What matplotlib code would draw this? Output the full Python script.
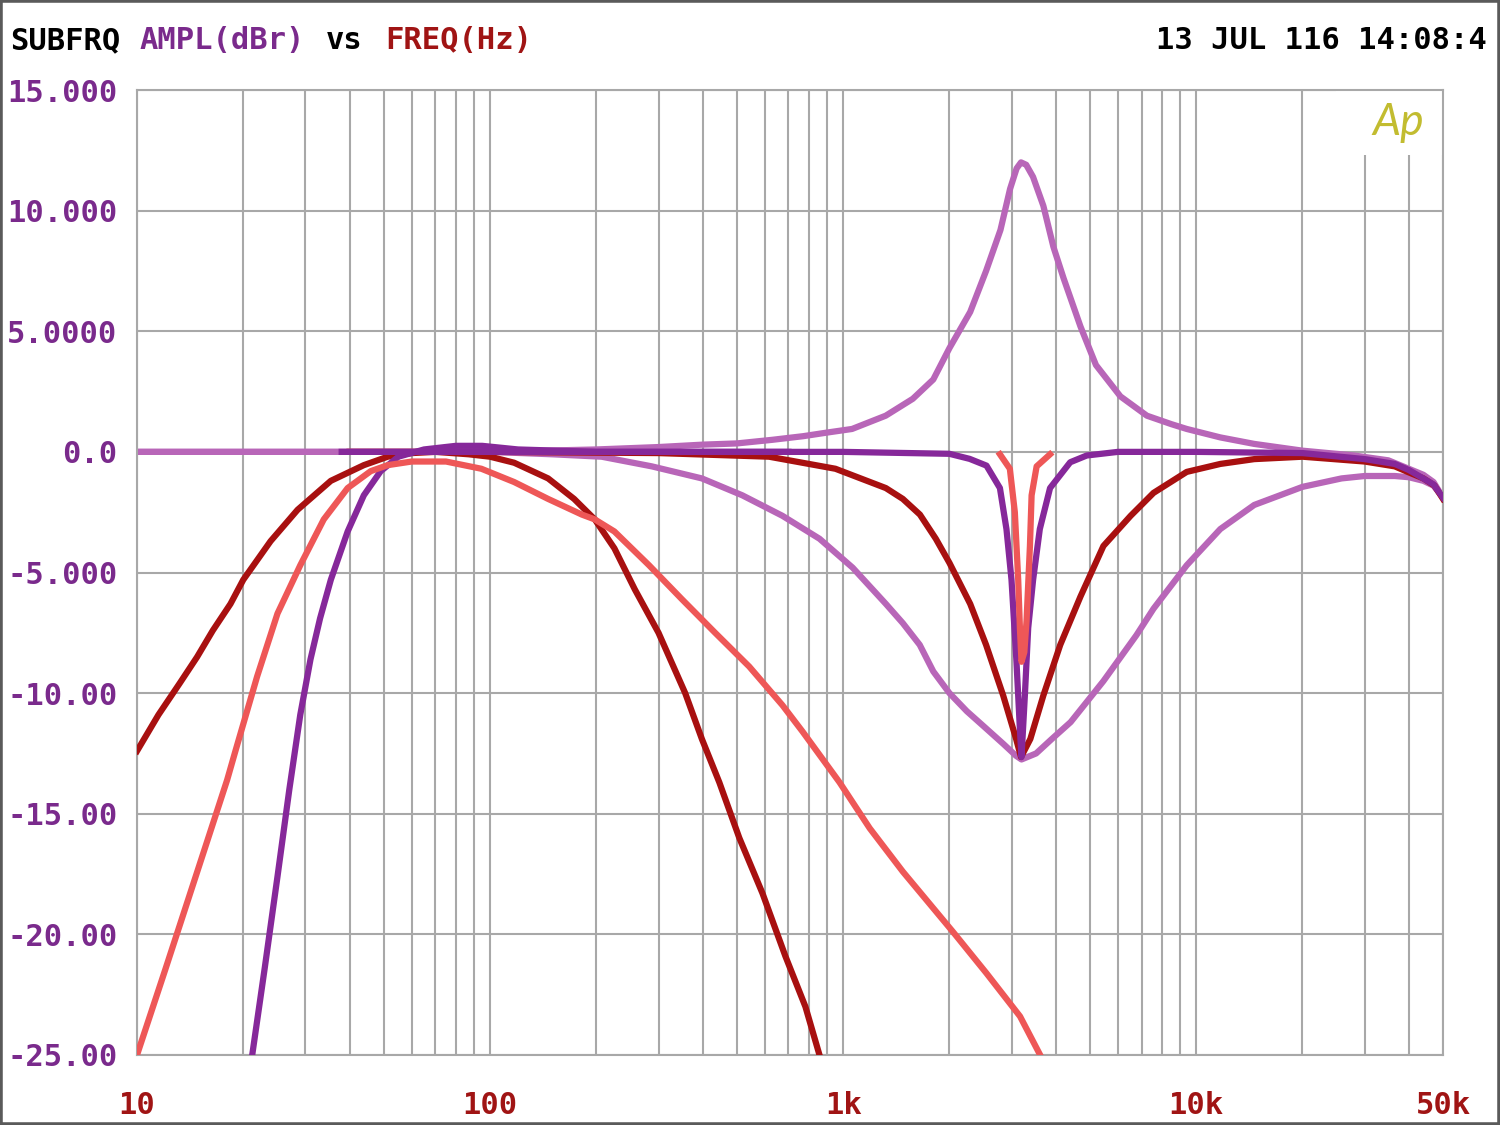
"""Audio Precision style sweep: subsonic/crossover filters and 3 kHz EQ bands."""

import matplotlib

matplotlib.use("Agg")
import matplotlib.pyplot as plt
from matplotlib.patches import Rectangle
from matplotlib.ticker import FixedLocator, LogLocator, NullFormatter

# ---- data (frequency in Hz, level in dBr) ----
boost_freq = [10, 50, 100, 200, 300, 400, 500, 630, 770, 900, 1060, 1320, 1575,
              1800, 2000, 2290, 2540, 2790, 2970, 3100, 3190, 3300, 3450, 3690,
              3940, 4210, 4700, 5200, 6100, 7250, 8500, 9400, 11700, 14600,
              20000, 28000, 35000, 40000, 44000, 47000, 50000]
boost_db = [0, 0, 0, 0.1, 0.2, 0.3, 0.35, 0.5, 0.65, 0.8, 0.95, 1.5, 2.2,
            3.0, 4.3, 5.8, 7.5, 9.2, 10.9, 11.75, 12.0, 11.9, 11.4, 10.2,
            8.5, 7.2, 5.2, 3.6, 2.3, 1.5, 1.15, 0.95, 0.6, 0.33,
            0.05, -0.15, -0.35, -0.7, -0.95, -1.25, -1.9]

wide_freq = [10, 100, 150, 207, 287, 398, 518, 673, 857, 1064, 1321, 1476,
             1648, 1800, 2000, 2240, 2490, 2840, 3090, 3200, 3520, 3900, 4410,
             5460, 6770, 7570, 9400, 11700, 14600, 20000, 25800, 30000, 36500,
             40000, 44000, 47000, 50000]
wide_db = [0, 0, -0.1, -0.2, -0.6, -1.1, -1.8, -2.65, -3.6, -4.8, -6.3, -7.1,
           -8.0, -9.1, -10.0, -10.75, -11.35, -12.1, -12.6, -12.75, -12.5,
           -11.9, -11.2, -9.5, -7.6, -6.5, -4.7, -3.2, -2.2, -1.45, -1.1, -1.0,
           -1.0, -1.05, -1.2, -1.4, -1.9]

dip_freq = [40, 100, 300, 617, 951, 1321, 1476, 1650, 1830, 2000, 2290, 2540,
            2840, 3090, 3190, 3390, 3690, 4120, 4700, 5460, 6520, 7570, 9400,
            11700, 14600, 20000, 30000, 36500, 40000, 44000, 47300, 50000]
dip_db = [0, 0, -0.05, -0.2, -0.7, -1.5, -1.95, -2.6, -3.6, -4.6, -6.3, -8.0,
          -10.1, -11.9, -12.65, -11.9, -10.1, -8.0, -6.0, -3.9, -2.65, -1.7,
          -0.83, -0.5, -0.3, -0.2, -0.4, -0.6, -0.85, -1.1, -1.4, -1.95]

red_bp_freq = [10, 11.5, 13.2, 14.8, 16.4, 18.4, 20, 23.9, 28.5, 35.4, 43.9,
               51.3, 60, 70, 87, 100, 117, 146, 173, 198, 225, 257, 300, 357,
               398, 446, 508, 591, 686, 782, 857]
red_bp_db = [-12.4, -10.9, -9.6, -8.5, -7.4, -6.3, -5.3, -3.7, -2.4, -1.2,
             -0.55, -0.2, -0.05, 0, -0.1, -0.2, -0.45, -1.1, -1.95, -2.8, -4.0,
             -5.7, -7.5, -10.0, -11.9, -13.7, -16.0, -18.3, -20.9, -23.0, -25.0]

coral_bp_freq = [10, 12, 14, 16, 18, 19, 21.9, 25, 29, 33.8, 39.5, 45.9, 51.3,
                 60, 75, 94.5, 117, 146, 182, 198, 225, 282, 349, 434, 542,
                 673, 768, 977, 1189, 1476, 2048, 2543, 3170, 3614]
coral_bp_db = [-25.0, -21.5, -18.5, -15.9, -13.6, -12.4, -9.3, -6.7, -4.7, -2.8,
               -1.5, -0.8, -0.55, -0.4, -0.4, -0.7, -1.25, -1.95, -2.6, -2.8,
               -3.3, -4.7, -6.1, -7.5, -8.9, -10.5, -11.6, -13.7, -15.6,
               -17.4, -19.9, -21.6, -23.4, -25.0]

purple_hp_freq = [21.2, 23, 25, 27, 29, 31, 33, 35.4, 39.5, 43.9, 49, 55, 65,
                  80, 95, 120, 200, 700]
purple_hp_db = [-25.0, -21.4, -17.6, -14.0, -10.9, -8.6, -6.9, -5.3, -3.3,
                -1.8, -0.8, -0.2, 0.1, 0.25, 0.25, 0.1, 0, 0]

purple_notch_freq = [38, 1000, 2000, 2282, 2547, 2780, 2901, 2998, 3097, 3167,
                     3200, 3271, 3343, 3452, 3606, 3855, 4397, 4898, 6000,
                     10000, 20000, 30000, 36500, 40000, 47000, 50000]
purple_notch_db = [0, 0, -0.08, -0.29, -0.57, -1.5, -3.2, -5.3, -8.7, -11.5,
                   -12.65, -10.1, -7.3, -5.3, -3.2, -1.5, -0.43, -0.15, 0,
                   0, -0.05, -0.3, -0.5, -0.75, -1.35, -1.9]

coral_notch_freq = [2780, 2966, 3064, 3132, 3167, 3200, 3260, 3307, 3381, 3418,
                    3532, 3855]
coral_notch_db = [-0.1, -0.7, -2.5, -5.3, -7.3, -8.7, -8.3, -7.0, -3.9, -1.8,
                  -0.6, -0.1]

xtick_values = [10, 100, 1000, 10000, 50000]
xtick_labels = ["10", "100", "1k", "10k", "50k"]
ytick_values = [15, 10, 5, 0, -5, -10, -15, -20, -25]
ytick_labels = ["15.000", "10.000", "5.0000", "0.0", "-5.000", "-10.00",
                "-15.00", "-20.00", "-25.00"]

LIGHT_PURPLE = "#B866B8"
DARK_PURPLE = "#86289A"
DARK_RED = "#A81010"
CORAL = "#EE5757"
GRID = "#A8A8A8"
LABEL_PURPLE = "#7A2A8C"
LABEL_RED = "#A01414"

plt.rcParams["font.family"] = ["DejaVu Sans Mono", "DejaVu Sans"]
plt.rcParams["font.weight"] = "bold"

figure = plt.figure(figsize=(15, 11.25), dpi=100)
axes = figure.add_axes([137 / 1500, 1 - 1055 / 1125, (1443 - 137) / 1500, 965 / 1125])

axes.set_xscale("log")
axes.set_xlim(10, 50000)
axes.set_ylim(-25, 15)

axes.xaxis.set_major_locator(FixedLocator(xtick_values))
axes.set_xticks(xtick_values, xtick_labels)
axes.xaxis.set_minor_locator(LogLocator(base=10, subs=range(1, 10), numticks=20))
axes.xaxis.set_minor_formatter(NullFormatter())
axes.set_yticks(ytick_values, ytick_labels)

axes.tick_params(axis="both", which="both", length=0)
axes.tick_params(axis="x", pad=26, labelsize=22, labelcolor=LABEL_RED)
axes.tick_params(axis="y", pad=14, labelsize=22, labelcolor=LABEL_PURPLE)

axes.set_axisbelow(True)
axes.grid(which="both", axis="x", color=GRID, linewidth=1.5)
axes.grid(which="major", axis="y", color=GRID, linewidth=1.5)
for spine in axes.spines.values():
    spine.set_color(GRID)
    spine.set_linewidth(1.5)

# blank patch behind the Ap logo, the upper grid lines stop short of it
axes.add_patch(Rectangle((0.918, 0.933), 0.081, 0.066, transform=axes.transAxes,
                         facecolor="white", edgecolor="none", zorder=0.9))

line_width = 4.5
axes.plot(boost_freq, boost_db, color=LIGHT_PURPLE, lw=line_width, zorder=2)
axes.plot(wide_freq, wide_db, color=LIGHT_PURPLE, lw=line_width, zorder=2)
axes.plot(red_bp_freq, red_bp_db, color=DARK_RED, lw=line_width, zorder=3)
axes.plot(dip_freq, dip_db, color=DARK_RED, lw=line_width, zorder=3)
axes.plot(purple_hp_freq, purple_hp_db, color=DARK_PURPLE, lw=line_width, zorder=4)
axes.plot(purple_notch_freq, purple_notch_db, color=DARK_PURPLE, lw=line_width, zorder=4)
axes.plot(coral_bp_freq, coral_bp_db, color=CORAL, lw=line_width, zorder=5)
axes.plot(coral_notch_freq, coral_notch_db, color=CORAL, lw=line_width, zorder=5)

axes.text(0.966, 0.966, "Ap", transform=axes.transAxes, ha="center", va="center",
          fontsize=32, color="#C2BC30", family=["Lato", "DejaVu Sans"],
          fontweight="normal", style="italic", zorder=6)

# header line
header_y = 1 - 49 / 1125
header_parts = [("SUBFRQ", 10, "black"), ("AMPL(dBr)", 140, LABEL_PURPLE),
                ("vs", 326, "black"), ("FREQ(Hz)", 385, LABEL_RED)]
for text, x_px, colour in header_parts:
    figure.text(x_px / 1500, header_y, text, color=colour, fontsize=22,
                ha="left", va="baseline")
figure.text(1487 / 1500, header_y, "13 JUL 116 14:08:4", color="black",
            fontsize=22, ha="right", va="baseline")

figure.add_artist(Rectangle((0, 0), 1, 1, transform=figure.transFigure,
                            fill=False, edgecolor="#5A5A5A", linewidth=4))

figure.savefig("out.png", dpi=100, facecolor="white")
